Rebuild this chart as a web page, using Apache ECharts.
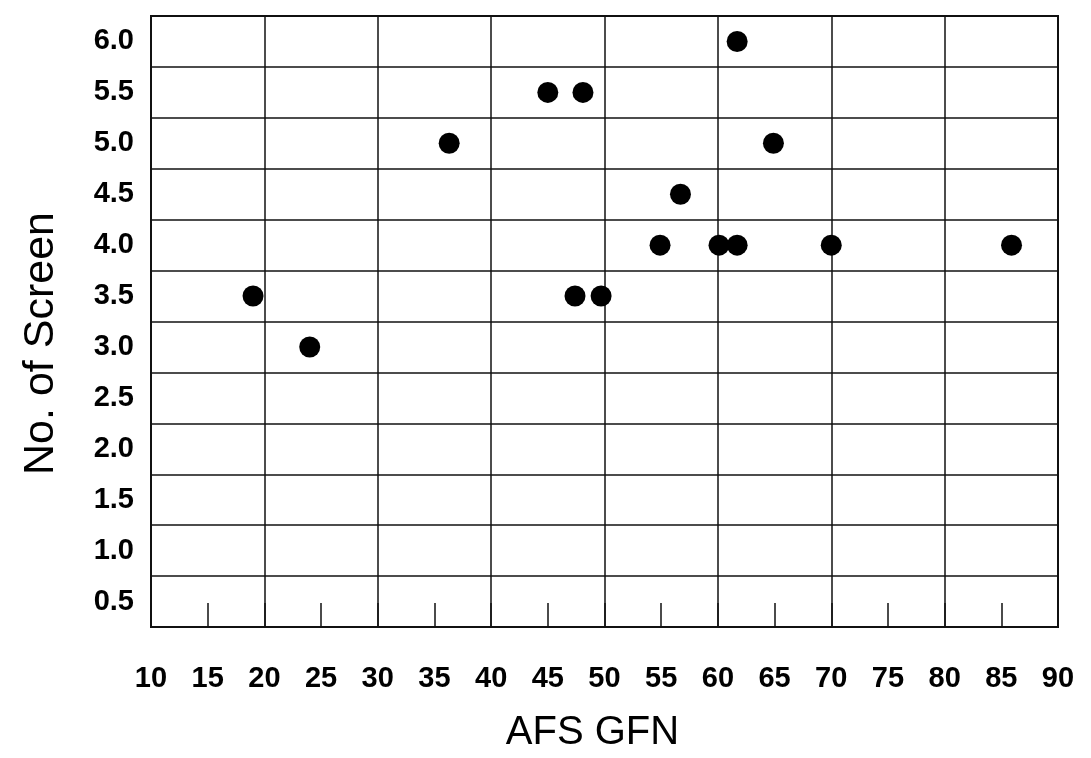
<!DOCTYPE html>
<html lang="en">
<head>
    <meta charset="UTF-8">
    <script src="https://cdn.jsdelivr.net/npm/echarts@6/dist/echarts.min.js"></script>
    <title>AFS GFN vs No. of Screen</title>
    <style type="text/css">
        html, body { margin: 0; padding: 0; background: #fff; }
        #chart { width: 1091px; height: 758px; }
    </style>
</head>
<body>
<div id="chart"></div>
<script type="text/javascript">
    // y tick labels sit in the middle of each band
    const yLabels = ['0.5', '1.0', '1.5', '2.0', '2.5', '3.0', '3.5', '4.0', '4.5', '5.0', '5.5', '6.0'];

    // AFS GFN values and matching number of screens
    const afsGfn = [19.0, 24.0, 36.3, 45.0, 48.1, 61.7, 64.9, 56.7, 54.9, 60.1, 61.7, 70.0, 85.9, 47.4, 49.7];
    const screens = [3.5, 3.0, 5.0, 5.5, 5.5, 6.0, 5.0, 4.5, 4.0, 4.0, 4.0, 4.0, 4.0, 3.5, 3.5];

    const points = [];
    for (let i = 0; i < afsGfn.length; i++) {
        points.push([afsGfn[i], screens[i]]);
    }

    const lineColor = '#111';
    const font = 'Liberation Sans, Arial, sans-serif';

    const myChart = echarts.init(document.getElementById('chart'));
    const option = {
        animation: false,
        backgroundColor: '#fff',
        grid: {
            left: 151, right: 33, top: 16, bottom: 128,
            show: true, borderColor: lineColor, borderWidth: 2
        },
        xAxis: [{
            type: 'value',
            min: 10, max: 90, interval: 5,
            name: 'AFS GFN',
            nameLocation: 'middle',
            nameGap: 86,
            nameTextStyle: { fontSize: 40, color: '#000', fontFamily: font, padding: [0, 24, 0, 0] },
            axisLine: { show: true, lineStyle: { color: lineColor, width: 2 } },
            axisTick: { show: true, inside: true, length: 24, lineStyle: { color: lineColor, width: 1.5 } },
            axisLabel: { fontSize: 29, fontWeight: 'bold', color: '#000', margin: 37, fontFamily: font },
            splitLine: { show: false }
        }, {
            type: 'value',
            min: 10, max: 90, interval: 10,
            position: 'bottom',
            axisLine: { show: false },
            axisTick: { show: false },
            axisLabel: { show: false },
            splitLine: { show: true, lineStyle: { color: lineColor, width: 1.5 } }
        }],
        yAxis: [{
            type: 'category',
            data: yLabels,
            boundaryGap: true,
            name: 'No. of Screen',
            nameLocation: 'middle',
            nameGap: 88,
            nameTextStyle: { fontSize: 43, color: '#000', fontFamily: font, padding: [0, 44, 0, 0] },
            axisLine: { show: true, lineStyle: { color: lineColor, width: 2 } },
            axisTick: { show: false },
            axisLabel: { fontSize: 29, fontWeight: 'bold', color: '#000', margin: 17, fontFamily: font },
            splitLine: { show: true, lineStyle: { color: lineColor, width: 1.5 } }
        }, {
            type: 'value',
            min: 0.25, max: 6.25,
            show: false
        }],
        series: [{
            type: 'scatter',
            xAxisIndex: 0,
            yAxisIndex: 1,
            symbol: 'circle',
            symbolSize: 21,
            itemStyle: { color: '#000', opacity: 1 },
            data: points
        }]
    };
    myChart.setOption(option);
</script>
</body>
</html>
